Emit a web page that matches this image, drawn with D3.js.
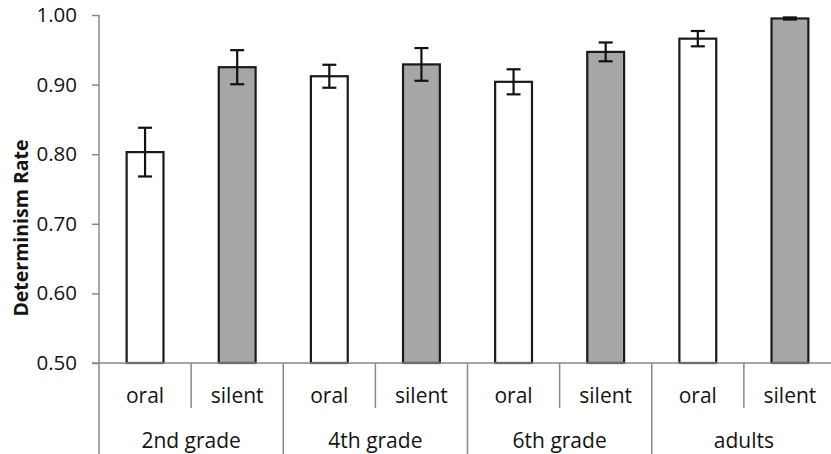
<!DOCTYPE html>
<html>
<head>
<meta charset="utf-8">
<script src="https://cdn.jsdelivr.net/npm/d3@7"></script>
<style>
  html, body { margin: 0; padding: 0; background: #fff; }
  svg { display: block; }
  text { font-family: "Open Sans", sans-serif; fill: #141414; }
</style>
</head>
<body>
<svg id="chart" width="831" height="454"></svg>
<script>
// Reading groups and reading conditions
const groups = ["2nd grade", "4th grade", "6th grade", "adults"];
const conditions = ["oral", "silent"];

// Mean determinism rate per group, by condition
const oralMeans   = [0.803, 0.912, 0.904, 0.966];
const silentMeans = [0.925, 0.929, 0.947, 0.995];

// Error bar half-lengths
const oralErr   = [0.035, 0.0165, 0.018, 0.011];
const silentErr = [0.0245, 0.0235, 0.0135, 0.0015];

// Y axis ticks
const yTicks = [0.50, 0.60, 0.70, 0.80, 0.90, 1.00];

const rows = [];
groups.forEach((g, i) => {
  rows.push({ key: g + "|oral", group: g, cond: conditions[0], value: oralMeans[i], err: oralErr[i] });
  rows.push({ key: g + "|silent", group: g, cond: conditions[1], value: silentMeans[i], err: silentErr[i] });
});

const svg = d3.select("#chart");
const axisColor = "#8a8a8a";

const x0 = 99, x1 = 836, yTop = 15, yBase = 363, yBottom = 460;

const x = d3.scaleBand()
  .domain(rows.map(d => d.key))
  .range([x0, x1])
  .paddingInner(0.6)
  .paddingOuter(0.3);

const y = d3.scaleLinear().domain([0.5, 1.0]).range([yBase, yTop]);

// Y axis
const yAxis = svg.append("g")
  .attr("transform", `translate(${x0},0)`)
  .call(d3.axisLeft(y).tickValues(yTicks).tickFormat(d3.format(".2f")).tickSize(7).tickPadding(15));
yAxis.select(".domain").remove();
yAxis.selectAll(".tick line").attr("stroke", axisColor).attr("stroke-width", 1.5);
yAxis.selectAll(".tick text")
  .attr("font-size", 20.5)
  .attr("font-family", "Open Sans, sans-serif")
  .attr("fill", "#141414");

// Vertical axis line running through the category table
svg.append("line")
  .attr("x1", x0).attr("x2", x0)
  .attr("y1", yTop).attr("y2", yBottom)
  .attr("stroke", axisColor).attr("stroke-width", 1.5);

// Y axis title
svg.append("text")
  .attr("transform", `translate(28,228) rotate(-90)`)
  .attr("text-anchor", "middle")
  .attr("font-size", 19.5)
  .attr("font-weight", "bold")
  .text("Determinism Rate");

// Bars
svg.append("g").selectAll("rect")
  .data(rows)
  .join("rect")
  .attr("x", d => x(d.key))
  .attr("width", x.bandwidth())
  .attr("y", d => y(d.value))
  .attr("height", d => y(0.5) - y(d.value))
  .attr("fill", d => d.cond === "oral" ? "#ffffff" : "#a6a6a6")
  .attr("stroke", "#1a1a1a")
  .attr("stroke-width", 2.2);

// Error bars
const capHalf = 7;
const eb = svg.append("g").selectAll("g")
  .data(rows)
  .join("g")
  .attr("stroke", "#111")
  .attr("stroke-width", 2.2);
eb.append("line")
  .attr("x1", d => x(d.key) + x.bandwidth() / 2)
  .attr("x2", d => x(d.key) + x.bandwidth() / 2)
  .attr("y1", d => y(d.value + d.err))
  .attr("y2", d => y(d.value - d.err));
eb.append("line")
  .attr("x1", d => x(d.key) + x.bandwidth() / 2 - capHalf)
  .attr("x2", d => x(d.key) + x.bandwidth() / 2 + capHalf)
  .attr("y1", d => y(d.value + d.err))
  .attr("y2", d => y(d.value + d.err));
eb.append("line")
  .attr("x1", d => x(d.key) + x.bandwidth() / 2 - capHalf)
  .attr("x2", d => x(d.key) + x.bandwidth() / 2 + capHalf)
  .attr("y1", d => y(d.value - d.err))
  .attr("y2", d => y(d.value - d.err));

// Category baseline
svg.append("line")
  .attr("x1", x0 - 7).attr("x2", x1)
  .attr("y1", yBase).attr("y2", yBase)
  .attr("stroke", axisColor).attr("stroke-width", 1.5);

// Category table: slot boundaries (short between conditions, full between groups)
const step = x.step();
svg.append("g").selectAll("line")
  .data(rows.slice(1).concat([{ cond: "end", key: null }]))
  .join("line")
  .attr("x1", (d, i) => x0 + (i + 1) * step)
  .attr("x2", (d, i) => x0 + (i + 1) * step)
  .attr("y1", yBase)
  .attr("y2", d => d.cond === "silent" ? 408 : yBottom)
  .attr("stroke", axisColor)
  .attr("stroke-width", 1.5);

// Condition labels
svg.append("g").selectAll("text")
  .data(rows)
  .join("text")
  .attr("x", d => x(d.key) + x.bandwidth() / 2)
  .attr("y", 403)
  .attr("text-anchor", "middle")
  .attr("font-size", 21)
  .text(d => d.cond);

// Group labels
svg.append("g").selectAll("text")
  .data(groups)
  .join("text")
  .attr("x", (g, i) => x0 + (2 * i + 1) * step)
  .attr("y", 448)
  .attr("text-anchor", "middle")
  .attr("font-size", 21)
  .text(g => g);
</script>
</body>
</html>
